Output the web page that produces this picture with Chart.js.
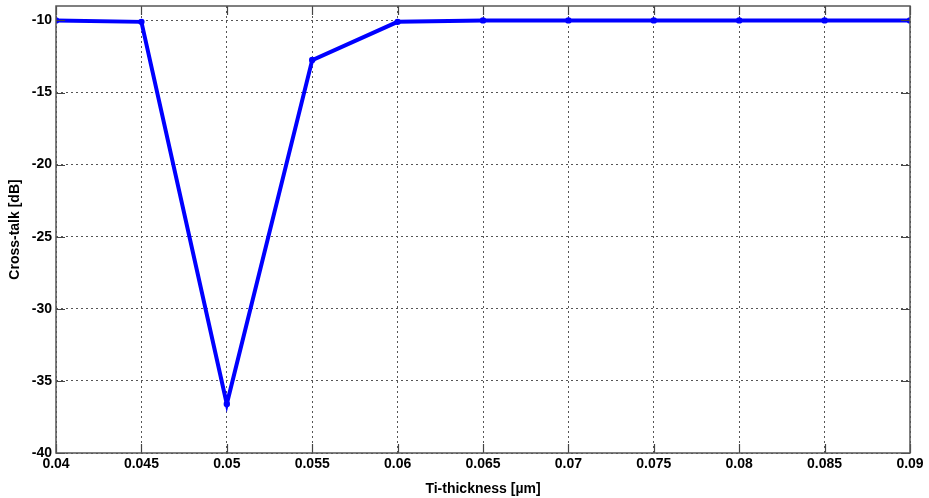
<!DOCTYPE html>
<html>
<head>
<meta charset="utf-8">
<script src="https://cdn.jsdelivr.net/npm/chart.js@4.4.1/dist/chart.umd.min.js"></script>
<style>
html,body{margin:0;padding:0;background:#fff;}
#wrap{width:929px;height:498px;position:relative;}
</style>
</head>
<body>
<div id="wrap"><canvas id="c" width="929" height="498"></canvas></div>
<script>
const thickness = [0.04, 0.045, 0.05, 0.055, 0.06, 0.065, 0.07, 0.075, 0.08, 0.085, 0.09];
const crosstalk = [-10.0, -10.1, -36.6, -12.75, -10.1, -10.0, -10.0, -10.0, -10.0, -10.0, -10.0];
const xTicks = [0.04, 0.045, 0.05, 0.055, 0.06, 0.065, 0.07, 0.075, 0.08, 0.085, 0.09];
const yTicks = [-40, -35, -30, -25, -20, -15, -10];

const FONT = "'Liberation Sans', Arial, sans-serif";

const inwardTicks = {
  id: 'inwardTicks',
  afterDatasetsDraw(chart) {
    const {ctx, chartArea: a, scales: {x, y}} = chart;
    const L = 9;
    ctx.save();
    ctx.strokeStyle = '#444';
    ctx.lineWidth = 1.2;
    ctx.beginPath();
    xTicks.forEach(v => {
      const px = Math.round(x.getPixelForValue(v)) + 0.5;
      ctx.moveTo(px, a.bottom); ctx.lineTo(px, a.bottom - L);
      ctx.moveTo(px, a.top); ctx.lineTo(px, a.top + L);
    });
    yTicks.forEach(v => {
      const py = Math.round(y.getPixelForValue(v)) + 0.5;
      ctx.moveTo(a.left, py); ctx.lineTo(a.left + L, py);
      ctx.moveTo(a.right, py); ctx.lineTo(a.right - L, py);
    });
    ctx.stroke();
    ctx.strokeStyle = '#555';
    ctx.lineWidth = 1.5;
    ctx.strokeRect(a.left, a.top, a.right - a.left, a.bottom - a.top);
    ctx.restore();
  }
};

new Chart(document.getElementById('c'), {
  type: 'line',
  data: {
    datasets: [{
      data: thickness.map((t, i) => ({x: t, y: crosstalk[i]})),
      borderColor: 'rgb(0,0,255)',
      backgroundColor: 'rgb(0,0,255)',
      borderWidth: 4,
      pointRadius: 3.2,
      pointBorderWidth: 0,
      tension: 0,
      fill: false
    }]
  },
  options: {
    responsive: false,
    animation: false,
    layout: {padding: {top: 6, right: 19, left: 7, bottom: 0}},
    plugins: {legend: {display: false}, tooltip: {enabled: false}},
    scales: {
      x: {
        type: 'linear',
        min: 0.04, max: 0.09,
        afterBuildTicks(s) { s.ticks = xTicks.map(v => ({value: v})); },
        afterFit(s) { s.height = 45; s.paddingLeft = 0; s.paddingRight = 0; },
        ticks: {
          color: '#000',
          font: {family: FONT, size: 14, weight: 'bold'},
          padding: 3,
          maxRotation: 0,
          autoSkip: false,
          callback: v => String(parseFloat(v.toFixed(3)))
        },
        grid: {color: '#555', lineWidth: 1, drawTicks: false},
        border: {display: false, dash: [2, 3]},
        title: {display: true, text: 'Ti-thickness [µm]', color: '#000',
          font: {family: FONT, size: 14, weight: 'bold'}, padding: {top: 4, bottom: 0}}
      },
      y: {
        type: 'linear',
        min: -40, max: -9,
        afterBuildTicks(s) { s.ticks = yTicks.map(v => ({value: v})); },
        afterFit(s) { s.width = 49; s.paddingTop = 0; s.paddingBottom = 0; },
        ticks: {
          color: '#000',
          font: {family: FONT, size: 14, weight: 'bold'},
          padding: 4,
          autoSkip: false,
          callback: v => String(v)
        },
        grid: {color: '#555', lineWidth: 1, drawTicks: false},
        border: {display: false, dash: [2, 3]},
        title: {display: true, text: 'Cross-talk [dB]', color: '#000',
          font: {family: FONT, size: 14, weight: 'bold'}, padding: {top: 0, bottom: 4}}
      }
    }
  },
  plugins: [inwardTicks]
});
</script>
</body>
</html>
